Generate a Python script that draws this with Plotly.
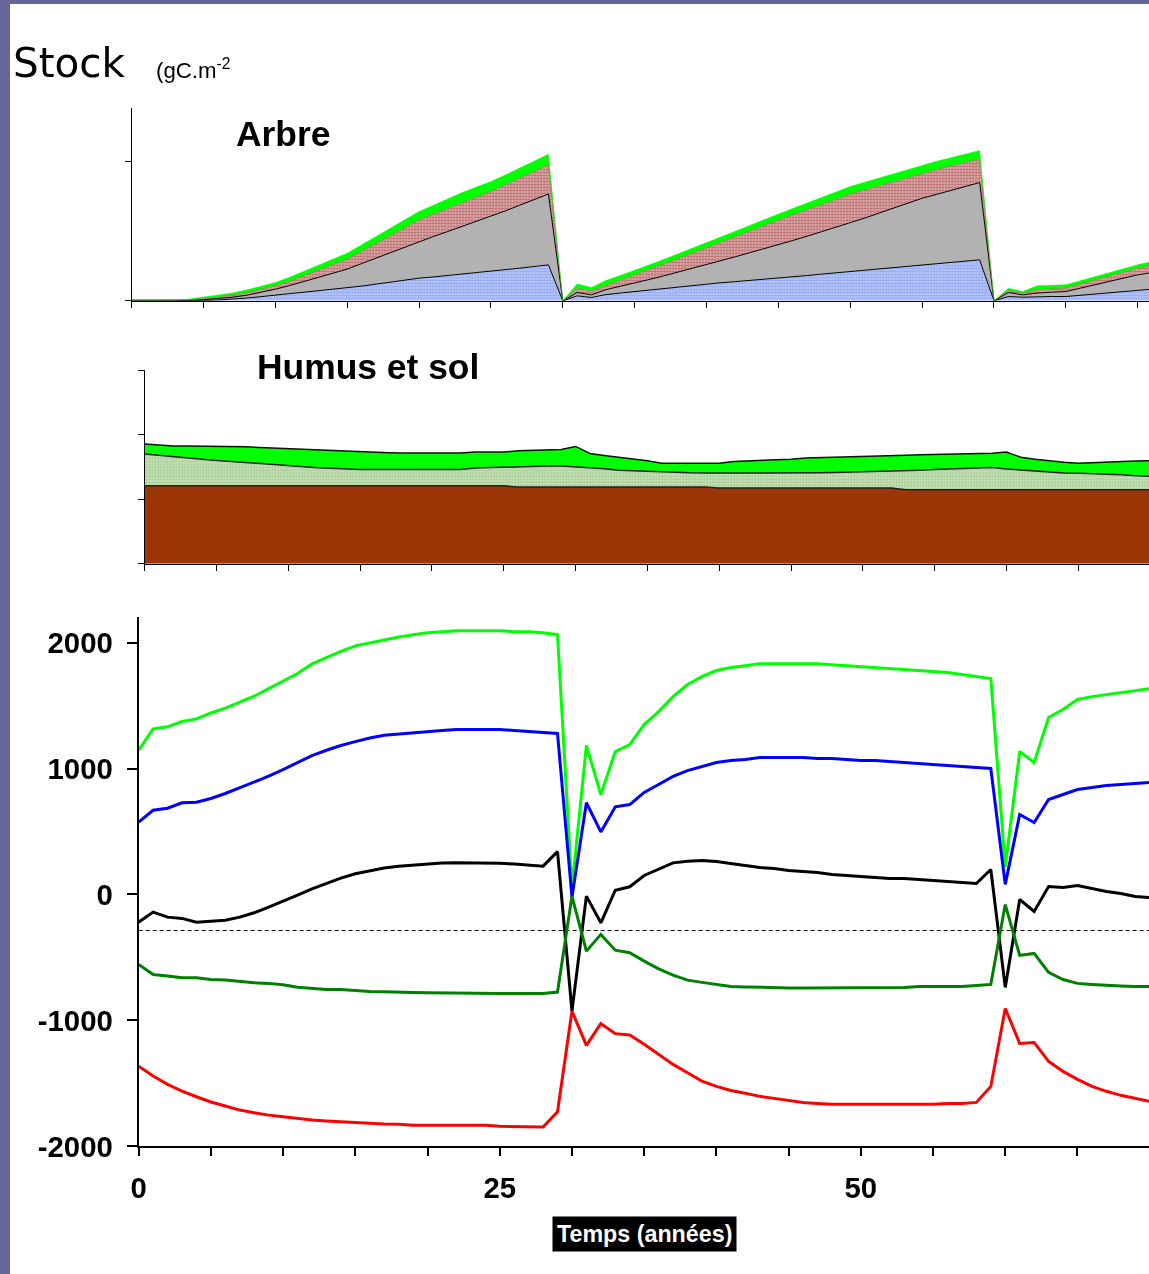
import plotly.graph_objects as go

W, H = 1149, 1274
# empirical mapping of the capture: shown = OFF_X + K * page
K = 0.988
OFF_X = 8.0
FS = 1.0 / K


def px(x):
    return ((x - OFF_X) / K) / W


def py(y):
    return 1 - (y / K) / H


REF_RIGHT = OFF_X + K * W


def xdom(left_ref, right_ref, per_year):
    right = min(right_ref, REF_RIGHT)
    return [px(left_ref), min(1.0, px(right))], [0, (right - left_ref) / per_year]


# ---------------- Arbre (tree stocks, cumulative tops) ----------------
years_arbre = list(range(72))
arbre_bleu = [30, 20, 15, 20, 25, 30, 60, 120, 200, 300,
              430, 520, 620, 720, 820, 910, 1060, 1200, 1350, 1490,
              1630, 1720, 1820, 1920, 2020, 2110, 2230, 2350, 2470, 2590,
              0,
              360, 240, 450, 560, 670, 780, 890, 1000, 1110,
              1220, 1300, 1380, 1460, 1540, 1630, 1730, 1820, 1920, 2010,
              2110, 2210, 2300, 2400, 2490, 2590, 2680, 2770, 2860, 2950,
              0,
              310, 260, 300, 310, 310, 400, 500, 600, 700, 790, 840]
arbre_gris = [40, 30, 25, 35, 50, 80, 150, 260, 400, 600,
              840, 1100, 1400, 1700, 2000, 2280, 2680, 3080, 3480, 3880,
              4270, 4630, 4990, 5350, 5710, 6060, 6470, 6880, 7290, 7690,
              0,
              600, 430, 800, 1050, 1270, 1530, 1790, 2060, 2320,
              2590, 2880, 3170, 3460, 3740, 4030, 4340, 4650, 4970, 5280,
              5590, 5950, 6310, 6660, 7020, 7380, 7660, 7940, 8230, 8510,
              0,
              600, 430, 560, 620, 670, 910, 1150, 1390, 1630, 1870, 2040]
arbre_rouge = [50, 40, 35, 50, 80, 140, 250, 400, 580, 820,
               1080, 1400, 1800, 2200, 2600, 3000, 3550, 4100, 4660, 5240,
               5820, 6230, 6650, 7060, 7460, 7860, 8340, 8820, 9300, 9780,
               0,
               900, 700, 1100, 1500, 1870, 2250, 2630, 3020, 3400,
               3790, 4200, 4600, 5010, 5410, 5820, 6190, 6560, 6930, 7300,
               7670, 7970, 8270, 8580, 8880, 9180, 9440, 9700, 9950, 10210,
               0,
               750, 550, 800, 860, 910, 1200, 1500, 1790, 2070, 2350, 2540]
arbre_vert = [60, 50, 45, 70, 130, 260, 380, 560, 780, 1030,
              1320, 1700, 2150, 2600, 3000, 3430, 4020, 4620, 5220, 5820,
              6420, 6870, 7330, 7790, 8190, 8580, 9060, 9540, 10050, 10550,
              0,
              1220, 960, 1460, 1820, 2180, 2580, 2970, 3370, 3760,
              4150, 4570, 5000, 5420, 5840, 6260, 6650, 7040, 7440, 7830,
              8220, 8530, 8840, 9160, 9470, 9780, 10040, 10300, 10550, 10810,
              0,
              910, 670, 1080, 1120, 1150, 1440, 1730, 2020, 2300, 2590, 2830]
arbre_yticks = [0, 10000]

# ---------------- Humus et sol (cumulative tops) ----------------
years_humus = list(range(72))
sol_brun = [12090] * 26 + [11890] * 14 + [11730] * 13 + [11470] * 19
humus_clair = [17000, 16780, 16540, 16370, 16200, 16020, 15850, 15680, 15510, 15340,
               15170, 15000, 14900, 14800, 14700, 14620, 14620, 14620, 14620, 14620,
               14620, 14620, 14620, 14830, 14910, 14990, 15070, 15140, 15140, 15140,
               15030, 14830, 14720, 14500, 14410, 14350, 14250, 14150, 14100, 14080,
               14070, 14060, 14050, 14050, 14050, 14050, 14050, 14090, 14130, 14180,
               14220, 14260, 14340, 14420, 14510, 14600, 14680, 14800, 14930, 14930,
               14700, 14550, 14370, 14190, 14050, 14010, 13970, 13920, 13800, 13660,
               13530, 13450]
humus_vert = [18550, 18380, 18240, 18240, 18240, 18240, 18240, 18130, 18030, 17930,
              17850, 17770, 17700, 17620, 17450, 17310, 17260, 17210, 17160, 17160,
              17160, 17160, 17160, 17310, 17310, 17310, 17520, 17580, 17650, 17720,
              18190, 17100, 16790, 16540, 16250, 15970, 15600, 15600, 15600, 15600,
              15600, 15860, 15930, 16000, 16070, 16200, 16380, 16430, 16480, 16530,
              16580, 16630, 16720, 16810, 16900, 16950, 17000, 17030, 17080, 17150,
              17310, 16500, 16200, 15950, 15750, 15600, 15700, 15830, 15900, 15940,
              15970, 15990]
humus_yticks = [0, 10000, 20000, 30000]

# ---------------- Flux panel ----------------
years = list(range(71))
flux_vert = [1145, 1315, 1331, 1373, 1394, 1441, 1479, 1529, 1574, 1635,
             1693, 1754, 1831, 1883, 1931, 1974, 1997, 2024, 2045, 2062,
             2079, 2087, 2095, 2095, 2095, 2095, 2087, 2087, 2079, 2063,
             50,
             1183, 794, 1135, 1190, 1349, 1452, 1571, 1667, 1730,
             1778, 1802, 1817, 1833, 1833, 1833, 1833, 1833, 1825, 1818,
             1810, 1802, 1794, 1786, 1778, 1770, 1762, 1746, 1730, 1714,
             220,
             1135, 1048, 1405, 1468, 1548, 1571, 1587, 1603, 1619, 1635]
flux_bleu = [574, 669, 685, 728, 733, 762, 802, 847, 892, 939,
             992, 1045, 1103, 1145, 1183, 1214, 1243, 1265, 1275, 1286,
             1294, 1302, 1310, 1310, 1310, 1310, 1302, 1294, 1286, 1278,
             -20,
             728, 497, 696, 714, 810, 873, 937, 984, 1016,
             1048, 1063, 1071, 1087, 1087, 1087, 1087, 1079, 1079, 1071,
             1063, 1063, 1056, 1048, 1040, 1032, 1024, 1016, 1008, 1000,
             80,
             635, 571, 754, 794, 833, 849, 865, 873, 881, 889]
flux_noir = [-220, -140, -180, -190, -220, -212, -205, -180, -145, -100,
             -55, -5, 45, 90, 130, 165, 190, 210, 225, 235,
             245, 250, 252, 252, 250, 248, 242, 235, 225, 340,
             -926,
             -13, -225, 34, 61, 151, 204, 251, 264, 270,
             262, 246, 230, 214, 206, 190, 183, 175, 159, 151,
             143, 135, 127, 127, 119, 111, 103, 95, 87, 198,
             -738,
             -40, -135, 63, 56, 71, 48, 24, 8, -16, -24]
flux_vert_fonce = [-556, -635, -648, -661, -661, -675, -680, -693, -701, -706,
                   -717, -736, -746, -754, -754, -762, -770, -772, -772, -778,
                   -780, -782, -784, -784, -786, -786, -786, -786, -786, -775,
                   -13,
                   -450, -317, -442, -463, -529, -590, -640, -680, -698,
                   -714, -730, -734, -738, -742, -742, -742, -742, -742, -738,
                   -738, -738, -738, -738, -730, -730, -730, -730, -722, -714,
                   -80,
                   -484, -468, -619, -675, -706, -714, -722, -726, -730, -730]
flux_rouge = [-1363, -1442, -1508, -1561, -1606, -1648, -1680, -1712, -1733, -1752,
              -1765, -1780, -1791, -1799, -1807, -1812, -1817, -1823, -1825, -1833,
              -1833, -1833, -1833, -1833, -1833, -1841, -1841, -1841, -1847, -1725,
              -926,
              -1198, -1026, -1105, -1116, -1190, -1270, -1349, -1415, -1482,
              -1524, -1556, -1579, -1603, -1619, -1635, -1651, -1659, -1665, -1665,
              -1665, -1665, -1665, -1665, -1665, -1665, -1659, -1659, -1651, -1524,
              -905,
              -1183, -1175, -1325, -1405, -1468, -1524, -1563, -1595, -1619, -1643]
ref_level = -286
flux_yticks = [-2000, -1000, 0, 1000, 2000]
flux_yticklabels = ["-2000", "-1000", "0", "1000", "2000"]
x_label_ticks = [0, 25, 50]
x_ticklabels = ["0", "25", "50"]

fig = go.Figure()

# Arbre stack
fig.add_trace(go.Scatter(x=years_arbre, y=arbre_bleu, xaxis="x", yaxis="y", mode="lines",
                         fill="tozeroy", line=dict(color="black", width=1),
                         fillcolor="#a6b9f3",
                         fillpattern=dict(shape=".", fgcolor="#5a7cf0", bgcolor="#c2cff8",
                                          size=3, solidity=0.5)))
fig.add_trace(go.Scatter(x=years_arbre, y=arbre_gris, xaxis="x", yaxis="y", mode="lines",
                         fill="tonexty", line=dict(color="black", width=1),
                         fillcolor="#b2b2b2"))
fig.add_trace(go.Scatter(x=years_arbre, y=arbre_rouge, xaxis="x", yaxis="y", mode="lines",
                         fill="tonexty", line=dict(color="#a05050", width=0.5),
                         fillcolor="#c48a8a",
                         fillpattern=dict(shape=".", fgcolor="#8b1a1a", bgcolor="#e2b8b8",
                                          size=3, solidity=0.5)))
fig.add_trace(go.Scatter(x=years_arbre, y=arbre_vert, xaxis="x", yaxis="y", mode="lines",
                         fill="tonexty", line=dict(color="#00ff00", width=0.5),
                         fillcolor="#00ff00"))

# Humus stack
fig.add_trace(go.Scatter(x=years_humus, y=sol_brun, xaxis="x2", yaxis="y2", mode="lines",
                         fill="tozeroy", line=dict(color="#222222", width=1.5),
                         fillcolor="#9c3606"))
fig.add_trace(go.Scatter(x=years_humus, y=humus_clair, xaxis="x2", yaxis="y2", mode="lines",
                         fill="tonexty", line=dict(color="#222222", width=1.5),
                         fillcolor="#c0dcaa",
                         fillpattern=dict(shape=".", fgcolor="#6aae5a", bgcolor="#d4e8c4",
                                          size=3, solidity=0.5)))
fig.add_trace(go.Scatter(x=years_humus, y=humus_vert, xaxis="x2", yaxis="y2", mode="lines",
                         fill="tonexty", line=dict(color="#111111", width=1.5),
                         fillcolor="#00ff00"))

# Flux lines
for vals, col in [(flux_vert, "#00ff00"), (flux_bleu, "#0000ff"), (flux_noir, "#000000"),
                  (flux_vert_fonce, "#008000"), (flux_rouge, "#ff0000")]:
    fig.add_trace(go.Scatter(x=years, y=vals, xaxis="x3", yaxis="y3", mode="lines",
                             line=dict(color=col, width=3)))

fig.add_shape(type="line", xref="x3 domain", yref="y3", x0=0, x1=1, y0=ref_level, y1=ref_level,
              line=dict(color="black", width=1, dash="4px,3px"), layer="below")

small_axis = dict(showline=True, linecolor="black", linewidth=1, ticks="outside", ticklen=6,
                  tickcolor="black", tickwidth=1, showticklabels=False, showgrid=False,
                  zeroline=False)
bold_font = dict(family="Liberation Sans, Arial, sans-serif", size=29 * FS, color="black",
                 weight="bold")

dom1, rng1 = xdom(131, 1149, 14.3)
dom2, rng2 = xdom(144, 1149, 14.29)
dom3, rng3 = xdom(138, 1147, 14.37)

fig.update_layout(
    width=W, height=H, margin=dict(l=0, r=0, t=0, b=0), autosize=False,
    paper_bgcolor="rgba(255,255,255,0)", plot_bgcolor="rgba(0,0,0,0)", showlegend=False,
    xaxis=dict(domain=dom1, range=rng1, anchor="y", dtick=5, tick0=0, **small_axis),
    yaxis=dict(domain=[py(301), py(108)], range=[0, 13880], anchor="x", tickvals=arbre_yticks,
               **small_axis),
    xaxis2=dict(domain=dom2, range=rng2, anchor="y2", dtick=5, tick0=0, **small_axis),
    yaxis2=dict(domain=[py(564), py(370)], range=[0, 30080], anchor="x2", tickvals=humus_yticks,
                **small_axis),
    xaxis3=dict(domain=dom3, range=rng3, anchor="y3", showline=True,
                linecolor="black", linewidth=2, ticks="outside", ticklen=8, tickwidth=2,
                tickcolor="black", tickvals=x_label_ticks, ticktext=x_ticklabels,
                tickfont=bold_font, showgrid=False, zeroline=False, ticklabelstandoff=6,
                minor=dict(ticks="outside", ticklen=8, tickwidth=2, tickcolor="black",
                           dtick=5, tick0=0, showgrid=False)),
    yaxis3=dict(domain=[py(1147), py(617)], range=[-2000, 2206], anchor="x3", showline=True,
                linecolor="black", linewidth=2, ticks="outside", ticklen=10, tickwidth=2,
                tickcolor="black", tickvals=flux_yticks, ticktext=flux_yticklabels,
                tickfont=bold_font, showgrid=False, zeroline=False, ticklabelstandoff=8),
)

# Frame strips
fig.add_shape(type="rect", xref="paper", yref="paper", x0=0, x1=max(px(10), 2.0 / W), y0=0, y1=1,
              fillcolor="#666699", line=dict(width=0), layer="above")
fig.add_shape(type="rect", xref="paper", yref="paper", x0=0, x1=1, y0=py(4), y1=1,
              fillcolor="#666699", line=dict(width=0), layer="above")

fig.add_annotation(text="Stock", x=px(11), y=py(63), xref="paper", yref="paper",
                   xanchor="left", yanchor="middle", showarrow=False,
                   font=dict(family="DejaVu Sans", size=40 * FS, color="black"))
fig.add_annotation(text="(gC.m<sup>-2</sup>", x=px(153), y=py(69), xref="paper", yref="paper",
                   xanchor="left", yanchor="middle", showarrow=False,
                   font=dict(family="Liberation Sans", size=22 * FS, color="black"))
fig.add_annotation(text="<b>Arbre</b>", x=px(282), y=py(134), xref="paper", yref="paper",
                   xanchor="center", yanchor="middle", showarrow=False,
                   font=dict(family="Liberation Sans", size=35 * FS, color="black"))
fig.add_annotation(text="<b>Humus et sol</b>", x=px(366), y=py(367), xref="paper", yref="paper",
                   xanchor="center", yanchor="middle", showarrow=False,
                   font=dict(family="Liberation Sans", size=35 * FS, color="black"))
fig.add_annotation(text="<b>Temps (années)</b>", x=px(641), y=py(1235), xref="paper", yref="paper",
                   xanchor="center", yanchor="middle", showarrow=False, bgcolor="black",
                   borderpad=4, font=dict(family="Liberation Sans", size=23 * FS, color="white"))

post = ("var bg='linear-gradient(to bottom, #666699 0px, #666699 4px, rgba(0,0,0,0) 4px),"
        "linear-gradient(to right, #666699 0px, #666699 10px, #ffffff 10px)';"
        "document.documentElement.style.margin='0';document.body.style.margin='0';"
        "document.body.style.padding='0';document.documentElement.style.overflow='hidden';"
        "document.body.style.overflow='hidden';"
        "document.documentElement.style.background=bg;"
        "document.body.style.background='transparent';"
        "var gd=document.getElementById('{plot_id}');"
        "gd.style.position='fixed';gd.style.left='0px';gd.style.top='0px';"
        "gd.style.background='transparent';")

fig.write_html("out.html", config={"displayModeBar": False}, post_script=post)
